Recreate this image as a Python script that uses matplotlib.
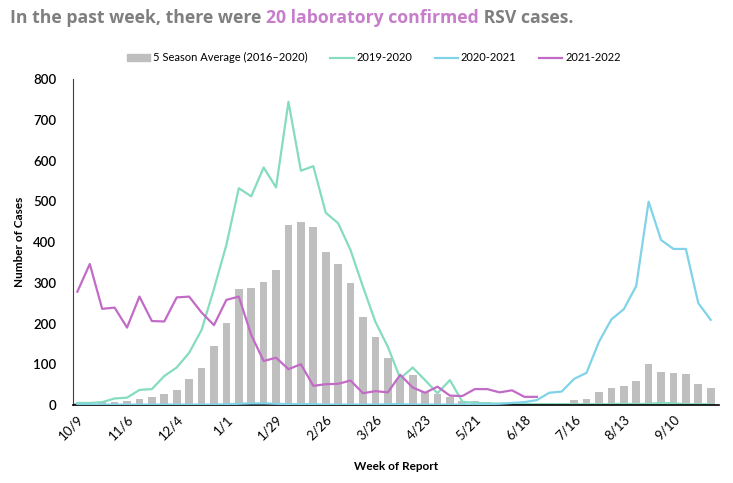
import numpy as np
import matplotlib
matplotlib.use("Agg")
import matplotlib.pyplot as plt
from matplotlib.patches import Patch
from matplotlib.lines import Line2D

# Datos semanales (52 semanas, desde 10/9)
tick_labels = ['10/9', '11/6', '12/4', '1/1', '1/29', '2/26', '3/26',
               '4/23', '5/21', '6/18', '7/16', '8/13', '9/10']

avg_5season = [6, 5, 7, 8, 10, 14, 20, 27, 37, 64, 90, 145, 202, 285, 287, 303,
               332, 442, 448, 437, 375, 347, 299, 217, 168, 115, 66, 74, 31, 27,
               20, 11, 9, 7, 4, 3, 3, 3, 6, 6, 13, 15, 32, 42, 46, 58, 100, 81,
               78, 76, 51, 42]

s2019_2020 = [5, 5, 7, 16, 18, 37, 39, 71, 92, 128, 184, 285, 393, 532, 512, 583,
              534, 744, 575, 586, 472, 446, 380, 290, 204, 143, 65, 92, 61, 29,
              61, 8, 5, 4, 3, 3, 2, 2, 2, 2, 2, 2, 2, 2, 3, 2, 3, 5, 4, 2,
              2, 2]

s2020_2021 = [1, 1, 1, 1, 1, 1, 1, 1, 1, 1, 1, 1, 2, 3, 4, 4, 3, 2, 2, 2,
              1, 1, 1, 1, 1, 2, 2, 1, 1, 1, 1, 1, 1, 2, 3, 5, 7, 12, 30, 33,
              64, 79, 155, 210, 235, 292, 499, 405, 383, 383, 250, 209]

s2021_2022 = [278, 346, 236, 239, 190, 266, 206, 205, 264, 266, 227, 196, 258,
              266, 172, 108, 116, 88, 100, 47, 51, 52, 60, 29, 34, 31, 74, 43,
              30, 45, 23, 22, 39, 39, 31, 36, 20, 20]

col_avg = '#bfbfbf'
col_1920 = '#85dcbf'
col_2021 = '#80d3e8'
col_2122 = '#c26bc6'

plt.rcParams['font.family'] = ['Lato', 'DejaVu Sans']

fig = plt.figure(figsize=(7.33, 4.83), dpi=100)
ax = fig.add_axes([0.0996, 0.1615, 0.881, 0.6749])

x = np.arange(len(avg_5season))
ax.bar(x, avg_5season, width=0.62, color=col_avg, zorder=1)
ax.plot(x, s2019_2020, color=col_1920, lw=1.6, zorder=2)
ax.plot(np.arange(len(s2020_2021)), s2020_2021, color=col_2021, lw=1.6, zorder=3)
ax.plot(np.arange(len(s2021_2022)), s2021_2022, color=col_2122, lw=1.6, zorder=4)

ax.set_xlim(-0.35, 51.65)
ax.set_ylim(0, 800)
ax.set_yticks(range(0, 801, 100))
ax.set_xticks(np.arange(0, 4 * len(tick_labels), 4))
ax.set_xticklabels(tick_labels, rotation=45, ha='right', rotation_mode='anchor')
ax.tick_params(axis='both', length=0, labelsize=9.5, colors='black')
ax.tick_params(axis='x', pad=6)
ax.tick_params(axis='y', pad=12)
for lab in ax.get_yticklabels():
    lab.set_fontweight('semibold')

for s in ['top', 'right']:
    ax.spines[s].set_visible(False)
ax.spines['left'].set_color('#404040')
ax.spines['bottom'].set_color('black')
ax.spines['bottom'].set_linewidth(1.2)

ax.set_ylabel('Number of Cases', fontsize=8.5, fontweight='bold', labelpad=6)
ax.set_xlabel('Week of Report', fontsize=8.5, fontweight='bold', labelpad=13)

handles = [Patch(color=col_avg),
           Line2D([], [], color=col_1920, lw=1.6),
           Line2D([], [], color=col_2021, lw=1.6),
           Line2D([], [], color=col_2122, lw=1.6)]
names = ['5 Season Average (2016\u20132020)', '2019-2020', '2020-2021', '2021-2022']
fig.legend(handles, names, loc='center', bbox_to_anchor=(0.51, 0.88), ncol=4,
           frameon=False, fontsize=8, handlelength=2.1, handletextpad=0.27,
           columnspacing=2.0)

# Titulo en dos colores
parts = [('In the past week, there were ', '#7f7f7f'),
         ('20 laboratory confirmed', '#c67dca'),
         (' RSV cases.', '#7f7f7f')]
renderer = fig.canvas.get_renderer()
xpos = 10
for txt, c in parts:
    t = fig.text(xpos / 733, 1 - 18 / 483, txt, color=c, fontsize=12.7,
                 fontweight='bold', family=['Open Sans', 'DejaVu Sans'],
                 va='center', ha='left')
    xpos += t.get_window_extent(renderer).width

fig.savefig('out.png', dpi=100)
